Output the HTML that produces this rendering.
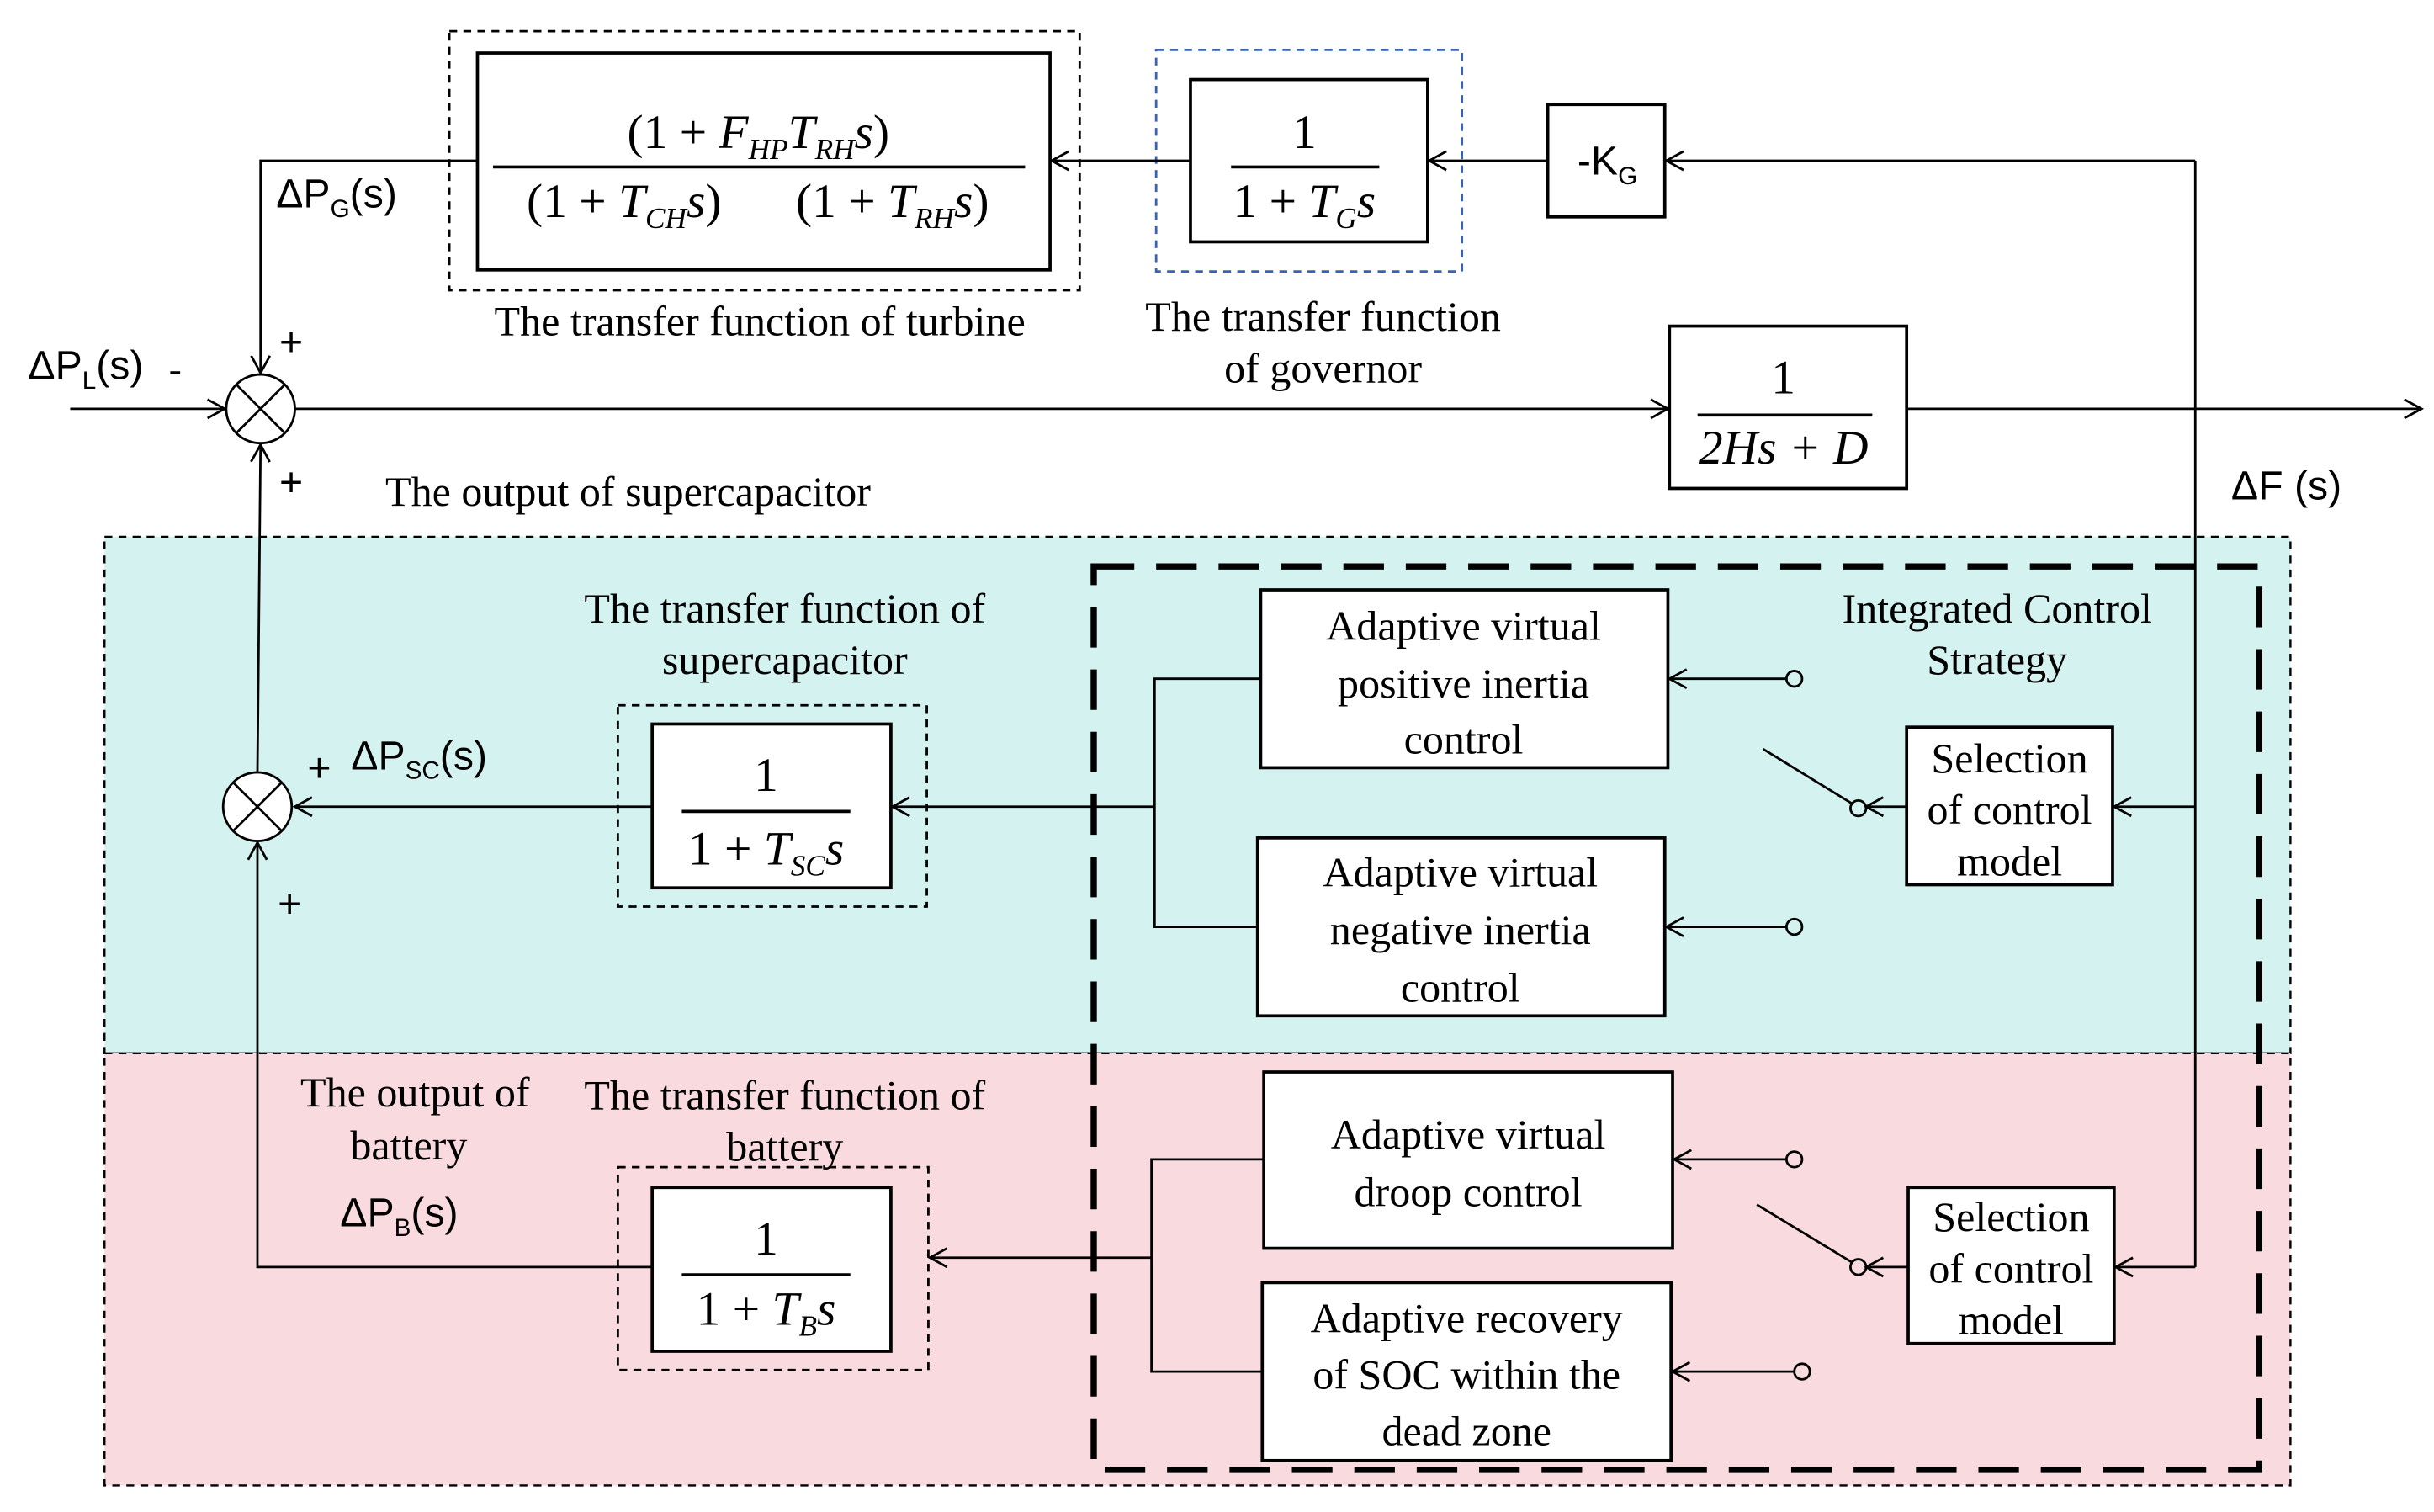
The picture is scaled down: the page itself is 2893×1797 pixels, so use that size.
<!DOCTYPE html>
<html><head><meta charset="utf-8"><style>
html,body{margin:0;padding:0;background:#fff;}
svg{display:block;}
.t{font-family:"Liberation Serif",serif;font-size:27px;fill:#000;}
.m{font-family:"Liberation Serif",serif;font-size:31px;fill:#000;}
.s{font-family:"Liberation Sans",sans-serif;font-size:26px;fill:#000;}
</style></head><body>
<svg width="2893" height="1797" viewBox="0 0 1560 969" preserveAspectRatio="none" xmlns="http://www.w3.org/2000/svg">
<defs>
<marker id="a" markerWidth="14" markerHeight="14" refX="12" refY="7" orient="auto" markerUnits="userSpaceOnUse">
<path d="M1,1 L12,7 L1,13" fill="none" stroke="#000" stroke-width="1.5"/></marker>
</defs>
<rect x="67" y="344" width="1401" height="331" fill="#d4f2ef" stroke="#000" stroke-width="1.3" stroke-dasharray="5,4"/>
<rect x="67" y="675" width="1401" height="277" fill="#f9dadf" stroke="#000" stroke-width="1.3" stroke-dasharray="5,4"/>
<rect x="701" y="363" width="747" height="579" fill="none" stroke="#000" stroke-width="4" stroke-dasharray="26,14"/>
<g fill="none" stroke="#000" stroke-width="1.5">
<rect x="288" y="20" width="404" height="166" stroke-dasharray="5,4"/>
<rect x="306" y="34" width="367" height="139" fill="#fff" stroke-width="2"/>
<line x1="316" y1="107" x2="657" y2="107" stroke-width="2"/>
<rect x="741" y="32" width="196" height="142" stroke="#3a62b0" stroke-dasharray="5,4"/>
<rect x="763" y="51" width="152" height="104" fill="#fff" stroke-width="2"/>
<line x1="789" y1="107" x2="884" y2="107" stroke-width="2"/>
<rect x="992" y="67" width="75" height="72" fill="#fff" stroke-width="2"/>
<rect x="1070" y="209" width="152" height="104" fill="#fff" stroke-width="2"/>
<line x1="1088" y1="266" x2="1200" y2="266" stroke-width="2"/>
<line x1="1407" y1="103" x2="1407" y2="812"/>
<line x1="1407" y1="103" x2="1068" y2="103" marker-end="url(#a)"/>
<line x1="992" y1="103" x2="916" y2="103" marker-end="url(#a)"/>
<line x1="763" y1="103" x2="674" y2="103" marker-end="url(#a)"/>
<polyline points="306,103 167,103 167,239" marker-end="url(#a)"/>
<line x1="45" y1="262" x2="144" y2="262" marker-end="url(#a)"/>
<line x1="189" y1="262" x2="1069" y2="262" marker-end="url(#a)"/>
<line x1="1222" y1="262" x2="1552" y2="262" marker-end="url(#a)"/>
<circle cx="167" cy="262" r="22" fill="#fff"/>
<line x1="151.4" y1="246.4" x2="182.6" y2="277.6"/><line x1="182.6" y1="246.4" x2="151.4" y2="277.6"/>
<line x1="165" y1="495" x2="167" y2="285" marker-end="url(#a)"/>
<circle cx="165" cy="517" r="22" fill="#fff"/>
<line x1="149.4" y1="501.4" x2="180.6" y2="532.6"/><line x1="180.6" y1="501.4" x2="149.4" y2="532.6"/>
<rect x="396" y="452" width="198" height="129" stroke-dasharray="5,4"/>
<rect x="418" y="464" width="153" height="105" fill="#fff" stroke-width="2"/>
<line x1="437" y1="520" x2="545" y2="520" stroke-width="2"/>
<line x1="418" y1="517" x2="189" y2="517" marker-end="url(#a)"/>
<line x1="740" y1="517" x2="572" y2="517" marker-end="url(#a)"/>
<polyline points="808,435 740,435 740,594 808,594"/>
<rect x="808" y="378" width="261" height="114" fill="#fff" stroke-width="2"/>
<rect x="806" y="537" width="261" height="114" fill="#fff" stroke-width="2"/>
<line x1="1145" y1="435" x2="1070" y2="435" marker-end="url(#a)"/>
<line x1="1145" y1="594" x2="1068" y2="594" marker-end="url(#a)"/>
<circle cx="1150" cy="435" r="5"/><circle cx="1150" cy="594" r="5"/>
<line x1="1130" y1="480" x2="1187" y2="515"/><circle cx="1191" cy="518" r="5"/>
<line x1="1222" y1="517" x2="1196" y2="517" marker-end="url(#a)"/>
<rect x="1222" y="466" width="132" height="101" fill="#fff" stroke-width="2"/>
<line x1="1407" y1="517" x2="1355" y2="517" marker-end="url(#a)"/>
<polyline points="418,812 165,812 165,540" marker-end="url(#a)"/>
<rect x="396" y="748" width="199" height="130" stroke-dasharray="5,4"/>
<rect x="418" y="761" width="153" height="105" fill="#fff" stroke-width="2"/>
<line x1="437" y1="817" x2="545" y2="817" stroke-width="2"/>
<line x1="738" y1="806" x2="596" y2="806" marker-end="url(#a)"/>
<polyline points="810,743 738,743 738,879 809,879"/>
<rect x="810" y="687" width="262" height="113" fill="#fff" stroke-width="2"/>
<rect x="809" y="822" width="262" height="114" fill="#fff" stroke-width="2"/>
<line x1="1145" y1="743" x2="1073" y2="743" marker-end="url(#a)"/>
<line x1="1150" y1="879" x2="1072" y2="879" marker-end="url(#a)"/>
<circle cx="1150" cy="743" r="5"/><circle cx="1155" cy="879" r="5"/>
<line x1="1126" y1="772" x2="1187" y2="809"/><circle cx="1191" cy="812" r="5"/>
<line x1="1223" y1="812" x2="1196" y2="812" marker-end="url(#a)"/>
<rect x="1223" y="761" width="132" height="100" fill="#fff" stroke-width="2"/>
<line x1="1407" y1="812" x2="1356" y2="812" marker-end="url(#a)"/>
</g>
<g text-anchor="middle">
<text class="m" x="486" y="95">(1 + <tspan font-style="italic">F</tspan><tspan font-style="italic" font-size="19" dy="7">HP</tspan><tspan font-style="italic" dy="-7">T</tspan><tspan font-style="italic" font-size="19" dy="7">RH</tspan><tspan font-style="italic" dy="-7">s</tspan>)</text>
<text class="m" x="400" y="139">(1 + <tspan font-style="italic">T</tspan><tspan font-style="italic" font-size="19" dy="7">CH</tspan><tspan font-style="italic" dy="-7">s</tspan>)</text>
<text class="m" x="572" y="139">(1 + <tspan font-style="italic">T</tspan><tspan font-style="italic" font-size="19" dy="7">RH</tspan><tspan font-style="italic" dy="-7">s</tspan>)</text>
<text class="m" x="836" y="95">1</text>
<text class="m" x="836" y="139">1 + <tspan font-style="italic">T</tspan><tspan font-style="italic" font-size="19" dy="7">G</tspan><tspan font-style="italic" dy="-7">s</tspan></text>
<text class="m" x="1143" y="252">1</text>
<text class="m" x="1143" y="297" font-style="italic">2Hs + D</text>
<text class="m" x="491" y="507">1</text>
<text class="m" x="491" y="554">1 + <tspan font-style="italic">T</tspan><tspan font-style="italic" font-size="19" dy="7">SC</tspan><tspan font-style="italic" dy="-7">s</tspan></text>
<text class="m" x="491" y="804">1</text>
<text class="m" x="491" y="849">1 + <tspan font-style="italic">T</tspan><tspan font-style="italic" font-size="19" dy="7">B</tspan><tspan font-style="italic" dy="-7">s</tspan></text>
<text class="t" x="487" y="215">The transfer function of turbine</text>
<text class="t" x="848" y="212">The transfer function</text>
<text class="t" x="848" y="245">of governor</text>
<text class="t" x="503" y="399">The transfer function of</text>
<text class="t" x="503" y="432">supercapacitor</text>
<text class="t" x="1280" y="399">Integrated Control</text>
<text class="t" x="1280" y="432">Strategy</text>
<text class="t" x="938" y="410">Adaptive virtual</text>
<text class="t" x="938" y="447">positive inertia</text>
<text class="t" x="938" y="483">control</text>
<text class="t" x="936" y="568">Adaptive virtual</text>
<text class="t" x="936" y="605">negative inertia</text>
<text class="t" x="936" y="642">control</text>
<text class="t" x="1288" y="495">Selection</text>
<text class="t" x="1288" y="528">of control</text>
<text class="t" x="1288" y="561">model</text>
<text class="t" x="266" y="709">The output of</text>
<text class="t" x="262" y="743">battery</text>
<text class="t" x="503" y="711">The transfer function of</text>
<text class="t" x="503" y="744">battery</text>
<text class="t" x="941" y="736">Adaptive virtual</text>
<text class="t" x="941" y="773">droop control</text>
<text class="t" x="940" y="854">Adaptive recovery</text>
<text class="t" x="940" y="890">of SOC within the</text>
<text class="t" x="940" y="926">dead zone</text>
<text class="t" x="1289" y="789">Selection</text>
<text class="t" x="1289" y="822">of control</text>
<text class="t" x="1289" y="855">model</text>
</g>
<text class="t" x="247" y="324">The output of supercapacitor</text>
<text class="s" x="1011" y="112">-K<tspan font-size="16" dy="6">G</tspan></text>
<text class="s" x="177" y="133">ΔP<tspan font-size="16" dy="6">G</tspan><tspan dy="-6">(s)</tspan></text>
<text class="s" x="18" y="243">ΔP<tspan font-size="16" dy="6">L</tspan><tspan dy="-6">(s)</tspan></text>
<text class="s" x="108" y="246">-</text>
<text class="s" x="179" y="228">+</text>
<text class="s" x="179" y="318">+</text>
<text class="s" x="197" y="501">+</text>
<text class="s" x="225" y="493">ΔP<tspan font-size="16" dy="6">SC</tspan><tspan dy="-6">(s)</tspan></text>
<text class="s" x="178" y="588">+</text>
<text class="s" x="218" y="786">ΔP<tspan font-size="16" dy="6">B</tspan><tspan dy="-6">(s)</tspan></text>
<text class="s" x="1430" y="320">ΔF  (s)</text>
</svg>
</body></html>
